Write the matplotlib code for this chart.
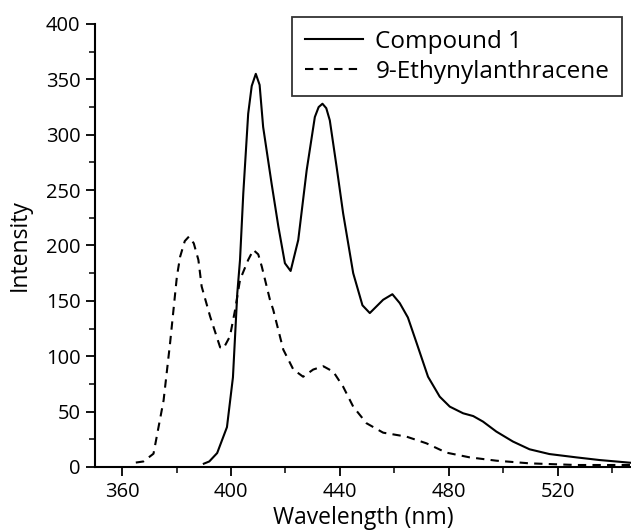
import numpy as np
import matplotlib
matplotlib.use("Agg")
import matplotlib.pyplot as plt
from matplotlib.ticker import MultipleLocator

plt.rcParams['font.family'] = ['Open Sans', 'DejaVu Sans']

# Compound 1 (solid)
wl_c1 = [390, 392, 394.9, 398.5, 400.7, 402.3, 403.3, 404.5, 406.3, 407.6, 409.1, 410.5,
         411.8, 414.9, 417.4, 419.8, 421.9, 424.7, 427.8, 430.8, 432.2, 433.6, 435,
         436.3, 438.8, 441.2, 444.9, 448.3, 451, 455.9, 459.3, 462, 465, 468.2, 472.4,
         476.7, 480.4, 485.3, 489, 492.6, 497.5, 503.6, 509.7, 517, 526.9, 535.4, 547]
int_c1 = [3, 5, 12.6, 36, 81, 157, 187, 247, 319, 344, 355, 345,
          307, 256, 217, 184, 177, 205, 268, 316, 325, 328, 324,
          313, 271, 229, 175, 146, 139, 151, 156, 148, 135, 112, 81.5,
          63.5, 54.5, 48.5, 46, 41, 32, 23, 16, 11.7, 8.7, 6.3, 3.8]

# 9-Ethynylanthracene (dashed)
wl_ea = [365, 367.8, 371.5, 375.2, 377.6, 380.1, 381.3, 383, 384.5, 386.3, 388, 389.2,
         392.3, 396, 397.2, 399.6, 401.5, 403.3, 406.3, 408.2, 410, 411.3, 414.3, 415.5,
         419.2, 422.9, 426.5, 430.2, 433.9, 437.6, 441.2, 444.9, 449.8, 455.9, 464.5,
         471.8, 479.1, 487.7, 497.5, 509.7, 526.9, 547]
int_ea = [4, 5, 12, 60, 112, 172, 190, 204, 208, 202, 187, 163,
          136, 108, 107, 118, 142, 169, 187, 196, 192, 181, 151, 142,
          106, 88, 81.5, 88, 91, 86, 72.5, 54.5, 39.5, 31, 27.4,
          21.4, 13, 8.7, 5.7, 3.3, 1.8, 1.8]

fig = plt.figure(figsize=(6.31, 5.31), dpi=100)
ax = fig.add_axes([95/631, 1-467/531, 536/631, 443/531])

ax.plot(wl_c1, int_c1, color='black', lw=1.5, label='Compound 1')
ax.plot(wl_ea, int_ea, color='black', lw=1.5, linestyle=(0, (4, 3)), label='9-Ethynylanthracene')

ax.set_xlim(350, 547)
ax.set_ylim(0, 400)
ax.xaxis.set_major_locator(MultipleLocator(40))
ax.xaxis.set_minor_locator(MultipleLocator(20))
ax.yaxis.set_major_locator(MultipleLocator(50))
ax.yaxis.set_minor_locator(MultipleLocator(25))

for s in ['top', 'right']:
    ax.spines[s].set_visible(False)
for s in ['left', 'bottom']:
    ax.spines[s].set_linewidth(1.5)
ax.tick_params(which='major', length=6.5, width=1.3, labelsize=14.5, direction='out', pad=4)
ax.tick_params(which='minor', length=4, width=1.1, direction='out')

ax.set_xlabel('Wavelength (nm)', fontsize=16.5, labelpad=3)
ax.set_ylabel('Intensity', fontsize=16.5, labelpad=10)

leg = ax.legend(loc='upper right', bbox_to_anchor=(622/631, 1-17/531),
                bbox_transform=fig.transFigure, fontsize=17.5, frameon=True,
                fancybox=False, edgecolor='black', handlelength=2.4,
                handletextpad=0.5, borderpad=0.52, labelspacing=0.25,
                borderaxespad=0)
leg.get_frame().set_linewidth(1.3)

fig.savefig('out.png', dpi=100)
